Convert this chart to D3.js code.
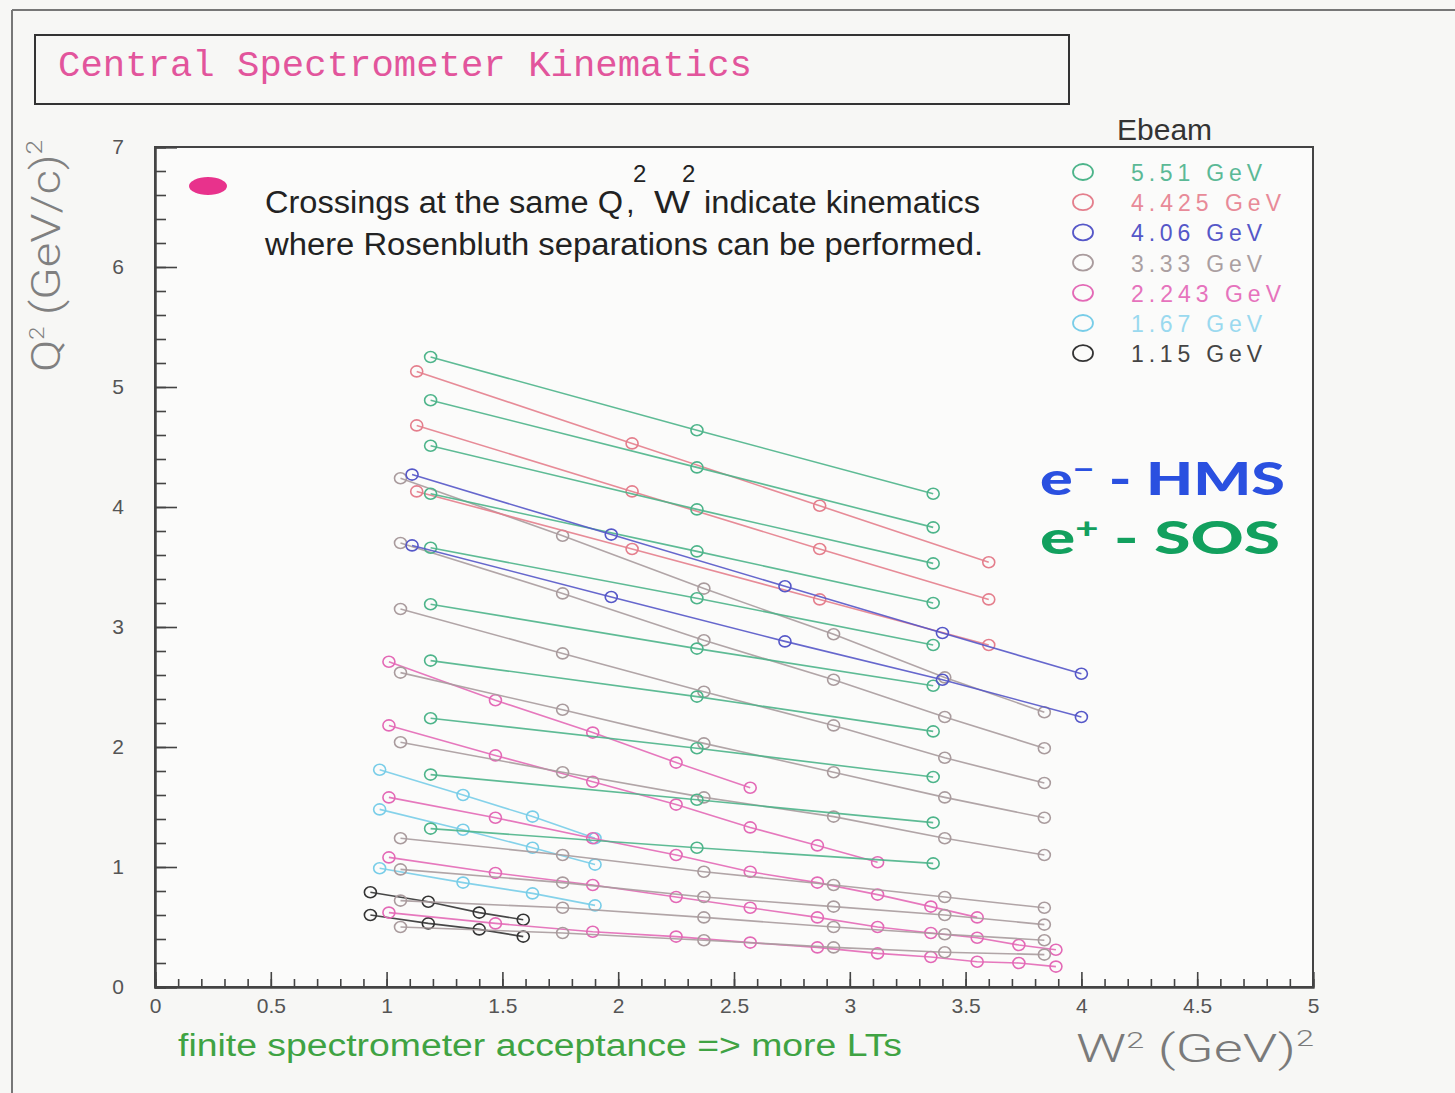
<!DOCTYPE html>
<html>
<head>
<meta charset="utf-8">
<script src="https://cdn.jsdelivr.net/npm/d3@7"></script>
<style>
  html, body { margin: 0; padding: 0; background: #f7f7f5; }
  svg { display: block; }
</style>
</head>
<body>
<svg id="chart" width="1455" height="1093"></svg>
<script>
// Beam energies shown in the legend
const energies = ["5.51 GeV", "4.425 GeV", "4.06 GeV", "3.33 GeV", "2.243 GeV", "1.67 GeV", "1.15 GeV"];

// W^2 settings (GeV^2) and Q^2 values (GeV/c)^2 for each beam energy;
// every row of a q2 array is one spectrometer-angle scan.
const w2_551 = [1.19, 2.34, 3.36];
const q2_551 = [
  [5.25, 4.64, 4.11], [4.89, 4.33, 3.83], [4.51, 3.98, 3.53], [4.11, 3.63, 3.20],
  [3.66, 3.24, 2.85], [3.19, 2.82, 2.51], [2.72, 2.42, 2.13], [2.24, 1.99, 1.75],
  [1.77, 1.56, 1.37], [1.32, 1.16, 1.03]
];

const w2_4425 = [1.13, 2.06, 2.87, 3.60];
const q2_4425 = [
  [5.13, 4.53, 4.01, 3.54], [4.68, 4.13, 3.65, 3.23], [4.13, 3.65, 3.23, 2.85]
];

const w2_406 = [1.11, 1.97, 2.72, 3.40, 4.00];
const q2_406 = [
  [4.27, 3.77, 3.34, 2.95, 2.61], [3.68, 3.25, 2.88, 2.56, 2.25]
];

const w2_333 = [1.06, 1.76, 2.37, 2.93, 3.41, 3.84];
const q2_333 = [
  [4.24, 3.76, 3.32, 2.94, 2.58, 2.29], [3.70, 3.28, 2.89, 2.56, 2.25, 1.99],
  [3.15, 2.78, 2.46, 2.18, 1.91, 1.70], [2.62, 2.31, 2.03, 1.79, 1.58, 1.41],
  [2.04, 1.79, 1.58, 1.42, 1.24, 1.10], [1.24, 1.10, 0.96, 0.85, 0.75, 0.66],
  [0.98, 0.87, 0.75, 0.67, 0.60, 0.52], [0.72, 0.66, 0.58, 0.50, 0.44, 0.39],
  [0.50, 0.45, 0.39, 0.33, 0.29, 0.27]
];

const w2_2243 = [1.01, 1.47, 1.89, 2.25, 2.57, 2.86, 3.12, 3.35, 3.55, 3.73, 3.89];
const q2_2243 = [
  [2.71, 2.39, 2.12, 1.87, 1.66],
  [2.18, 1.93, 1.71, 1.52, 1.33, 1.18, 1.04],
  [1.58, 1.41, 1.24, 1.10, 0.96, 0.87, 0.77, 0.67, 0.58],
  [1.08, 0.95, 0.85, 0.75, 0.66, 0.58, 0.50, 0.45, 0.41, 0.35, 0.31],
  [0.62, 0.53, 0.46, 0.42, 0.37, 0.33, 0.28, 0.25, 0.21, 0.20, 0.17]
];

const w2_167 = [0.97, 1.33, 1.63, 1.90];
const q2_167 = [
  [1.81, 1.60, 1.42, 1.24], [1.48, 1.31, 1.16, 1.02], [0.99, 0.87, 0.78, 0.68]
];

const w2_115 = [0.93, 1.18, 1.40, 1.59];
const q2_115 = [
  [0.79, 0.71, 0.62, 0.56], [0.60, 0.53, 0.48, 0.42]
];

const w2Sets = [w2_551, w2_4425, w2_406, w2_333, w2_2243, w2_167, w2_115];
const q2Sets = [q2_551, q2_4425, q2_406, q2_333, q2_2243, q2_167, q2_115];

// Axis ranges and tick values
const xDomain = [0, 5];
const yDomain = [0, 7];
const xMajorTicks = d3.range(0, 5.001, 0.5);
const xMinorTicks = d3.range(0, 5.001, 0.1);
const yMajorTicks = d3.range(0, 7.001, 1);
const yMinorTicks = d3.range(0, 7.001, 0.2);

// Drawing styles
const colors = ["#4db48a", "#e47e8c", "#5557c8", "#a99b9d", "#e369b6", "#78cde8", "#333333"];
const textColors = ["#5bb996", "#e88a98", "#5557c8", "#aa9fa1", "#e673bd", "#9ad9ef", "#444444"];

const svg = d3.select("#chart");
const frame = { left: 155, right: 1313, top: 147, bottom: 987 };

const x = d3.scaleLinear().domain(xDomain).range([frame.left, frame.right]);
const y = d3.scaleLinear().domain(yDomain).range([frame.bottom, frame.top]);

// page border lines
svg.append("line").attr("x1", 12).attr("y1", 10).attr("x2", 1455).attr("y2", 10)
  .attr("stroke", "#777").attr("stroke-width", 2);
svg.append("line").attr("x1", 12).attr("y1", 10).attr("x2", 12).attr("y2", 1093)
  .attr("stroke", "#777").attr("stroke-width", 2);

// title box
svg.append("rect").attr("x", 35).attr("y", 35).attr("width", 1034).attr("height", 69)
  .attr("fill", "none").attr("stroke", "#333").attr("stroke-width", 2);
svg.append("text").attr("x", 58).attr("y", 76)
  .attr("font-family", "'Liberation Mono', 'DejaVu Sans Mono', monospace")
  .attr("font-size", 37).attr("fill", "#e2559c")
  .attr("textLength", 694).attr("lengthAdjust", "spacingAndGlyphs")
  .text("Central Spectrometer Kinematics");

// plot frame
svg.append("rect").attr("x", frame.left).attr("y", frame.top)
  .attr("width", frame.right - frame.left).attr("height", frame.bottom - frame.top)
  .attr("fill", "#fbfbfa").attr("stroke", "#444").attr("stroke-width", 2);

// axes: minor ticks, then major ticks with labels
const axisFont = "'Liberation Sans', Arial, sans-serif";
const gxMinor = svg.append("g").attr("transform", `translate(0,${frame.bottom})`)
  .call(d3.axisBottom(x).tickValues(xMinorTicks).tickSize(-8).tickFormat(""));
const gxMajor = svg.append("g").attr("transform", `translate(0,${frame.bottom})`)
  .call(d3.axisBottom(x).tickValues(xMajorTicks).tickSize(-15).tickPadding(11)
    .tickFormat(d3.format("")));
const gyMinor = svg.append("g").attr("transform", `translate(${frame.left},0)`)
  .call(d3.axisLeft(y).tickValues(yMinorTicks).tickSize(-11).tickFormat(""));
const gyMajor = svg.append("g").attr("transform", `translate(${frame.left},0)`)
  .call(d3.axisLeft(y).tickValues(yMajorTicks).tickSize(-22).tickPadding(31)
    .tickFormat(d3.format("d")));

[gxMinor, gxMajor, gyMinor, gyMajor].forEach(g => {
  g.select(".domain").attr("stroke", "#444").attr("stroke-width", 2);
  g.selectAll(".tick line").attr("stroke", "#444").attr("stroke-width", 1.6);
  g.selectAll(".tick text").attr("font-family", axisFont).attr("font-size", 21)
    .attr("fill", "#555");
});

// kinematic scans: polylines with open circle markers
const line = d3.line().x(d => x(d[0])).y(d => y(d[1]));
const drawOrder = [6, 5, 4, 3, 1, 0, 2];
drawOrder.forEach(i => {
  const g = svg.append("g").attr("class", "ebeam-" + i);
  q2Sets[i].forEach(row => {
    const pts = row.map((q, k) => [w2Sets[i][k], q]);
    g.append("path").attr("d", line(pts)).attr("fill", "none")
      .attr("stroke", colors[i]).attr("stroke-width", 1.6).attr("stroke-opacity", 0.9);
    g.selectAll(null).data(pts).join("ellipse")
      .attr("cx", d => x(d[0])).attr("cy", d => y(d[1]))
      .attr("rx", 6).attr("ry", 5.5)
      .attr("fill", "none").attr("stroke", colors[i]).attr("stroke-width", 1.6);
  });
});

// legend
svg.append("text").attr("x", 1117).attr("y", 140)
  .attr("font-family", axisFont).attr("font-size", 30).attr("fill", "#333")
  .text("Ebeam");
const leg = svg.append("g");
energies.forEach((e, i) => {
  const cy = 172 + i * 30.2;
  leg.append("ellipse").attr("cx", 1083).attr("cy", cy).attr("rx", 10).attr("ry", 8)
    .attr("fill", "none").attr("stroke", colors[i]).attr("stroke-width", 1.8);
  leg.append("text").attr("x", 1131).attr("y", cy + 9)
    .attr("font-family", axisFont).attr("font-size", 23).attr("fill", textColors[i])
    .attr("textLength", e.length === 9 ? 150 : 131).attr("lengthAdjust", "spacing")
    .text(e);
});

// annotation
const noteFont = "'Liberation Sans Narrow', 'Liberation Sans', Arial, sans-serif";
svg.append("ellipse").attr("cx", 208).attr("cy", 186).attr("rx", 19).attr("ry", 9)
  .attr("fill", "#e8328c");
const note = svg.append("g").attr("font-family", noteFont).attr("font-size", 31)
  .attr("fill", "#222");
note.append("text").attr("x", 265).attr("y", 213)
  .attr("textLength", 358).attr("lengthAdjust", "spacingAndGlyphs").text("Crossings at the same Q");
note.append("text").attr("x", 633).attr("y", 182)
  .attr("font-size", 24).text("2");
note.append("text").attr("x", 626).attr("y", 213).text(",");
note.append("text").attr("x", 654).attr("y", 213)
  .attr("textLength", 36).attr("lengthAdjust", "spacingAndGlyphs").text("W");
note.append("text").attr("x", 682).attr("y", 182)
  .attr("font-size", 24).text("2");
note.append("text").attr("x", 704).attr("y", 213)
  .attr("textLength", 276).attr("lengthAdjust", "spacingAndGlyphs").text("indicate kinematics");
note.append("text").attr("x", 265).attr("y", 255)
  .attr("textLength", 718).attr("lengthAdjust", "spacingAndGlyphs")
  .text("where Rosenbluth separations can be performed.");

// axis titles
const thinFont = "'Roboto', 'Liberation Sans', Arial, sans-serif";
const yTitle = svg.append("text")
  .attr("transform", "translate(60,372) rotate(-90)")
  .attr("font-family", thinFont).attr("font-weight", 300)
  .attr("font-size", 40).attr("fill", "#808080")
  .attr("textLength", 232).attr("lengthAdjust", "spacingAndGlyphs");
yTitle.append("tspan").text("Q");
yTitle.append("tspan").attr("dy", -16).attr("font-size", 20).text("2");
yTitle.append("tspan").attr("dy", 16).text(" (GeV/c)");
yTitle.append("tspan").attr("dy", -18).attr("font-size", 22).text("2");

const xTitle = svg.append("text").attr("x", 1076).attr("y", 1062)
  .attr("font-family", thinFont).attr("font-size", 38).attr("fill", "#7a7a7a")
  .attr("font-weight", 300)
  .attr("textLength", 238).attr("lengthAdjust", "spacingAndGlyphs");
xTitle.append("tspan").text("W");
xTitle.append("tspan").attr("dy", -14).attr("font-size", 22).text("2");
xTitle.append("tspan").attr("dy", 14).text(" (GeV)");
xTitle.append("tspan").attr("dy", -16).attr("font-size", 22).text("2");

svg.append("text").attr("x", 178).attr("y", 1056)
  .attr("font-family", noteFont).attr("font-size", 31).attr("fill", "#3fa343")
  .attr("textLength", 724).attr("lengthAdjust", "spacingAndGlyphs")
  .text("finite spectrometer acceptance  =>  more LTs");

// hand-written spectrometer labels
const handFont = "'Lato', 'Open Sans', sans-serif";
const hms = svg.append("text").attr("x", 1040).attr("y", 495)
  .attr("font-family", handFont).attr("font-weight", 900).attr("font-size", 46)
  .attr("fill", "#2a50e0").attr("textLength", 245).attr("lengthAdjust", "spacingAndGlyphs");
hms.append("tspan").text("e");
hms.append("tspan").attr("dy", -16).attr("font-size", 28).text("\u2212");
hms.append("tspan").attr("dy", 16).text(" - HMS");
const sos = svg.append("text").attr("x", 1040).attr("y", 554)
  .attr("font-family", handFont).attr("font-weight", 900).attr("font-size", 46)
  .attr("fill", "#12a05e").attr("textLength", 240).attr("lengthAdjust", "spacingAndGlyphs");
sos.append("tspan").text("e");
sos.append("tspan").attr("dy", -16).attr("font-size", 28).text("+");
sos.append("tspan").attr("dy", 16).text(" - SOS");
</script>
</body>
</html>
